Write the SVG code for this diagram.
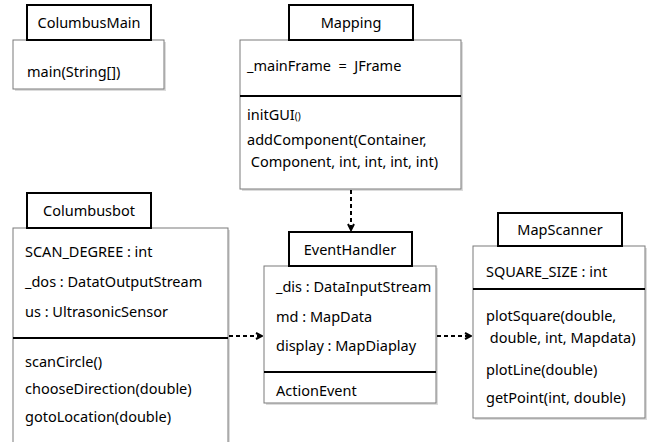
<svg xmlns="http://www.w3.org/2000/svg" width="653" height="442" viewBox="0 0 653 442">
  <style>
    .tab { fill: #ffffff; stroke: #000000; stroke-width: 2; }
    .box { fill: #ffffff; stroke: #7a7a7a; stroke-width: 1; }
    .shadow { fill: #dcdcdc; }
    .div { stroke: #000000; stroke-width: 2; }
    .t { font-family: "Noto Sans", "Open Sans", sans-serif; font-size: 14.5px; fill: #000000; white-space: pre; }
    .title { text-anchor: middle; }
    .dep { fill: none; stroke: #000000; stroke-width: 2; stroke-dasharray: 4 3; }
  </style>
  <defs>
    <marker id="arrow" viewBox="0 0 8 8" refX="7" refY="4" markerWidth="8" markerHeight="8" markerUnits="userSpaceOnUse" orient="auto">
      <path d="M1,1 L7,4 L1,7" fill="none" stroke="#000000" stroke-width="2"/>
    </marker>
  </defs>

  <g id="ColumbusMain">
    <rect class="shadow" x="15" y="42" width="151" height="49"/>
    <rect class="box" x="13" y="40" width="151" height="49"/>
    <rect class="tab" x="27" y="5" width="124" height="35"/>
    <text class="t title" x="89" y="28">ColumbusMain</text>
    <text class="t" x="27" y="77">main(String[])</text>
  </g>

  <g id="Mapping">
    <rect class="shadow" x="242" y="42" width="221" height="149"/>
    <rect class="box" x="240" y="40" width="221" height="149"/>
    <line class="div" x1="240" y1="96" x2="461" y2="96"/>
    <rect class="tab" x="289" y="5" width="124" height="35"/>
    <text class="t title" x="351" y="28">Mapping</text>
    <text class="t" x="247" y="71" xml:space="preserve">_mainFrame  =  JFrame</text>
    <text class="t" x="247" y="120">initGUI<tspan font-size="10">()</tspan></text>
    <text class="t" x="247" y="145">addComponent(Container,</text>
    <text class="t" x="247" y="167" xml:space="preserve"> Component, int, int, int, int)</text>
  </g>

  <g id="Columbusbot">
    <rect class="shadow" x="15" y="230" width="215" height="214"/>
    <rect class="box" x="13" y="228" width="215" height="216"/>
    <line class="div" x1="13" y1="338" x2="228" y2="338"/>
    <rect class="tab" x="27" y="193" width="124" height="35"/>
    <text class="t title" x="89" y="216">Columbusbot</text>
    <text class="t" x="25" y="257">SCAN_DEGREE : int</text>
    <text class="t" x="25" y="287">_dos : DatatOutputStream</text>
    <text class="t" x="25" y="317">us : UltrasonicSensor</text>
    <text class="t" x="25" y="367">scanCircle()</text>
    <text class="t" x="25" y="394">chooseDirection(double)</text>
    <text class="t" x="25" y="422">gotoLocation(double)</text>
  </g>

  <g id="EventHandler">
    <rect class="shadow" x="266" y="268" width="172" height="137"/>
    <rect class="box" x="264" y="266" width="172" height="137"/>
    <line class="div" x1="264" y1="372" x2="436" y2="372"/>
    <rect class="tab" x="289" y="232" width="123" height="34"/>
    <text class="t title" x="350" y="255">EventHandler</text>
    <text class="t" x="276" y="292">_dis : DataInputStream</text>
    <text class="t" x="276" y="322">md : MapData</text>
    <text class="t" x="276" y="351">display : MapDiaplay</text>
    <text class="t" x="276" y="396">ActionEvent</text>
  </g>

  <g id="MapScanner">
    <rect class="shadow" x="475" y="248" width="172" height="172"/>
    <rect class="box" x="473" y="246" width="172" height="172"/>
    <line class="div" x1="473" y1="289" x2="645" y2="289"/>
    <rect class="tab" x="498" y="213" width="124" height="33"/>
    <text class="t title" x="560" y="235">MapScanner</text>
    <text class="t" x="486" y="277">SQUARE_SIZE : int</text>
    <text class="t" x="486" y="321">plotSquare(double,</text>
    <text class="t" x="486" y="343" xml:space="preserve"> double, int, Mapdata)</text>
    <text class="t" x="486" y="375">plotLine(double)</text>
    <text class="t" x="486" y="403">getPoint(int, double)</text>
  </g>

  <g id="connectors">
    <line class="dep" x1="351" y1="190" x2="351" y2="230" marker-end="url(#arrow)"/>
    <line class="dep" x1="229" y1="336" x2="262" y2="336" marker-end="url(#arrow)"/>
    <line class="dep" x1="437" y1="336" x2="471" y2="336" marker-end="url(#arrow)"/>
  </g>
</svg>
